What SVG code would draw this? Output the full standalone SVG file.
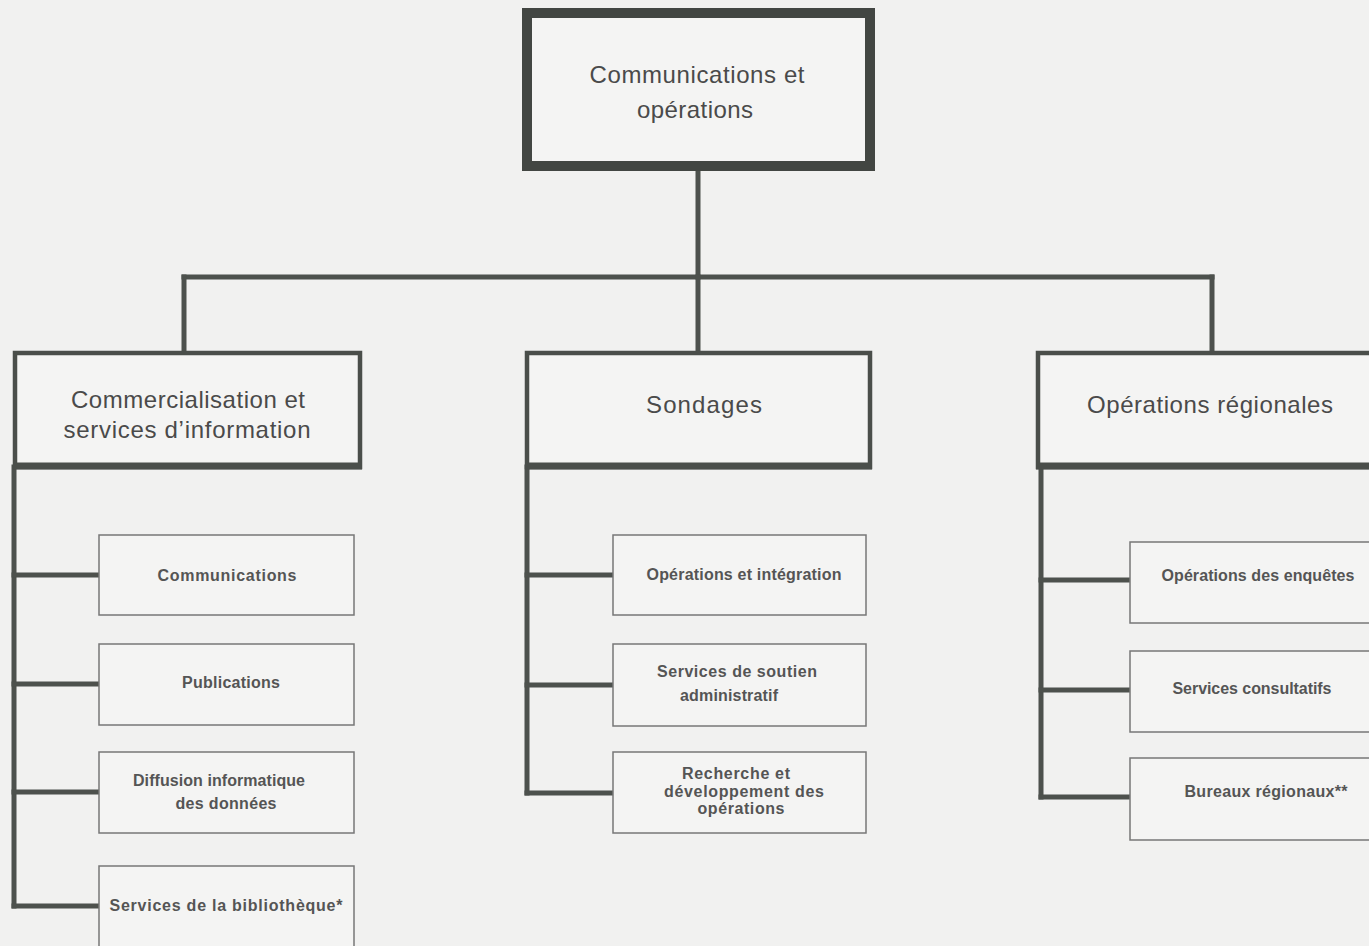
<svg xmlns="http://www.w3.org/2000/svg" width="1369" height="946" viewBox="0 0 1369 946">
<style>
.bg{fill:#f1f1f0}
.top{fill:#f4f4f3;stroke:#424642;stroke-width:10}
.l2{fill:#f4f4f3;stroke:#4a4e4a;stroke-width:4.5}
.l2b{stroke:#4a4e4a;stroke-width:7}
.l3{fill:#f4f4f3;stroke:#777;stroke-width:1.5}
.c{stroke:#4d514d;stroke-width:5;fill:none;stroke-linecap:square}
.t1{font-family:"Liberation Sans",Arial,sans-serif;font-size:24px;fill:#4a4a4a;text-anchor:middle}
.t3{font-family:"Liberation Sans",Arial,sans-serif;font-size:16px;font-weight:bold;fill:#555;text-anchor:middle}
</style>
<rect class="bg" x="0" y="0" width="1369" height="946"/>
<g id="connectors">
<line class="c" x1="698" y1="166" x2="698" y2="277"/>
<line class="c" x1="184" y1="277" x2="1212" y2="277"/>
<line class="c" x1="184" y1="277" x2="184" y2="353"/>
<line class="c" x1="698" y1="277" x2="698" y2="353"/>
<line class="c" x1="1212" y1="277" x2="1212" y2="353"/>
<line class="c" x1="14" y1="467" x2="14" y2="906"/>
<line class="c" x1="14" y1="575" x2="99" y2="575"/>
<line class="c" x1="14" y1="684" x2="99" y2="684"/>
<line class="c" x1="14" y1="792" x2="99" y2="792"/>
<line class="c" x1="14" y1="906" x2="99" y2="906"/>
<line class="c" x1="527" y1="467" x2="527" y2="793"/>
<line class="c" x1="527" y1="575" x2="613" y2="575"/>
<line class="c" x1="527" y1="685" x2="613" y2="685"/>
<line class="c" x1="527" y1="793" x2="613" y2="793"/>
<line class="c" x1="1041" y1="467" x2="1041" y2="797"/>
<line class="c" x1="1041" y1="580" x2="1130" y2="580"/>
<line class="c" x1="1041" y1="690" x2="1130" y2="690"/>
<line class="c" x1="1041" y1="797" x2="1130" y2="797"/>
</g>
<g id="n-top">
<rect class="top" x="527" y="13" width="343" height="153"/>
<text class="t1" x="697" y="83" textLength="215">Communications et</text>
<text class="t1" x="695" y="118" textLength="116">opérations</text>
</g>
<g id="n-commercialisation">
<rect class="l2" x="15" y="353" width="345" height="114"/>
<line class="l2b" x1="13" y1="466" x2="362" y2="466"/>
<text class="t1" x="188" y="408" textLength="234">Commercialisation et</text>
<text class="t1" x="187" y="438" textLength="247">services d’information</text>
</g>
<g id="n-sondages">
<rect class="l2" x="527" y="353" width="343" height="114"/>
<line class="l2b" x1="525" y1="466" x2="872" y2="466"/>
<text class="t1" x="704" y="413" textLength="116">Sondages</text>
</g>
<g id="n-regionales">
<rect class="l2" x="1038" y="353" width="345" height="114"/>
<line class="l2b" x1="1036" y1="466" x2="1369" y2="466"/>
<text class="t1" x="1210" y="413" textLength="246">Opérations régionales</text>
</g>
<g id="n-communications">
<rect class="l3" x="99" y="535" width="255" height="80"/>
<text class="t3" x="227" y="581" textLength="139">Communications</text>
</g>
<g id="n-publications">
<rect class="l3" x="99" y="644" width="255" height="81"/>
<text class="t3" x="231" y="688" textLength="98">Publications</text>
</g>
<g id="n-diffusion">
<rect class="l3" x="99" y="752" width="255" height="81"/>
<text class="t3" x="219" y="786" textLength="172">Diffusion informatique</text>
<text class="t3" x="226" y="809" textLength="101">des données</text>
</g>
<g id="n-bibliotheque">
<rect class="l3" x="99" y="866" width="255" height="95"/>
<text class="t3" x="226" y="911" textLength="233">Services de la bibliothèque*</text>
</g>
<g id="n-integration">
<rect class="l3" x="613" y="535" width="253" height="80"/>
<text class="t3" x="744" y="580" textLength="195">Opérations et intégration</text>
</g>
<g id="n-soutien">
<rect class="l3" x="613" y="644" width="253" height="82"/>
<text class="t3" x="737" y="677" textLength="160">Services de soutien</text>
<text class="t3" x="729" y="701" textLength="98">administratif</text>
</g>
<g id="n-recherche">
<rect class="l3" x="613" y="752" width="253" height="81"/>
<text class="t3" x="736" y="779" textLength="108">Recherche et</text>
<text class="t3" x="744" y="797" textLength="160">développement des</text>
<text class="t3" x="741" y="814" textLength="87">opérations</text>
</g>
<g id="n-enquetes">
<rect class="l3" x="1130" y="542" width="260" height="81"/>
<text class="t3" x="1258" y="581" textLength="193">Opérations des enquêtes</text>
</g>
<g id="n-consultatifs">
<rect class="l3" x="1130" y="651" width="260" height="81"/>
<text class="t3" x="1252" y="694" textLength="159">Services consultatifs</text>
</g>
<g id="n-bureaux">
<rect class="l3" x="1130" y="758" width="260" height="82"/>
<text class="t3" x="1266" y="797" textLength="163">Bureaux régionaux**</text>
</g>
</svg>
